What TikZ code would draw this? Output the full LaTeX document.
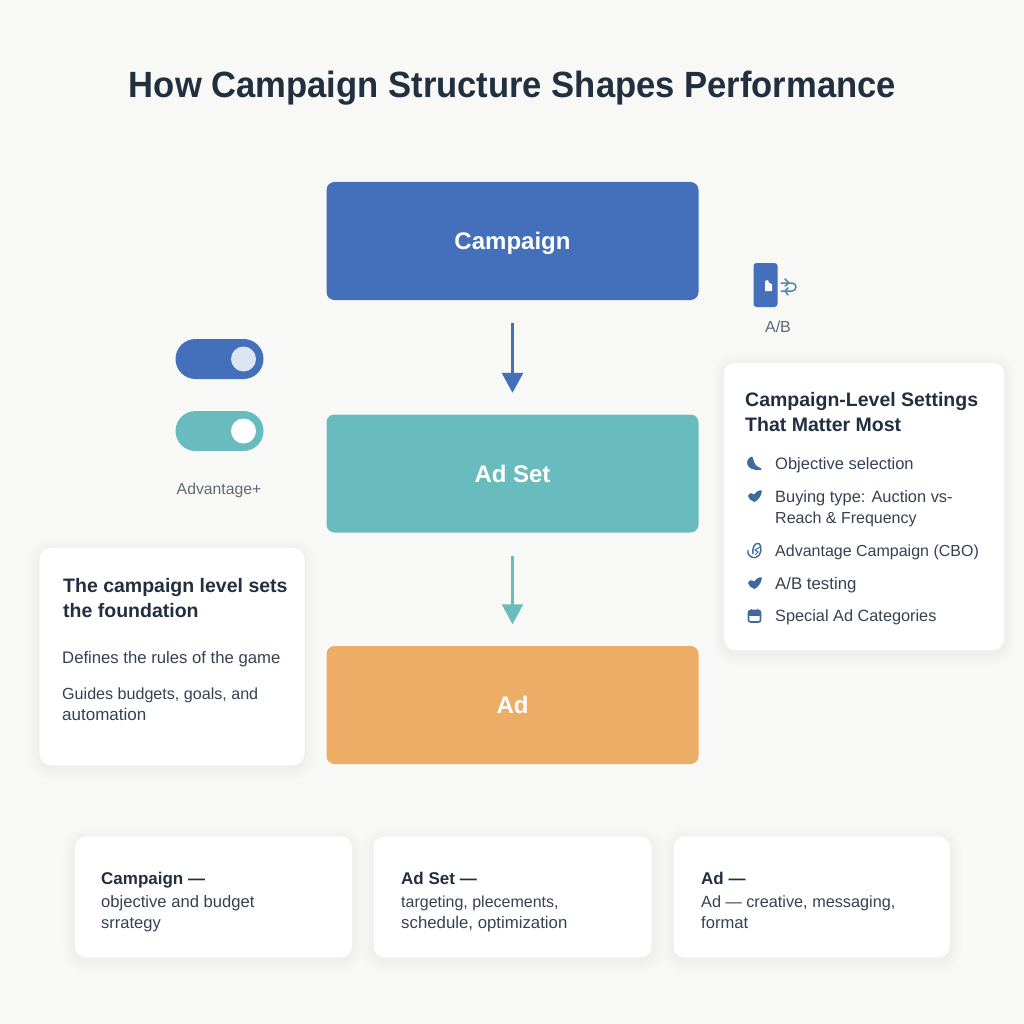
\documentclass[tikz,border=0pt]{standalone}
\usepackage{fontspec}
\setmainfont{Liberation Sans}
\newfontfamily\titlefont[FakeStretch=0.948]{Liberation Sans}
\usetikzlibrary{arrows.meta}
\definecolor{bgc}{HTML}{F8F8F6}
\definecolor{navy}{HTML}{222F3F}
\definecolor{bodyc}{HTML}{354252}
\definecolor{greyc}{HTML}{5F6A76}
\definecolor{bluec}{HTML}{436FBB}
\definecolor{tealc}{HTML}{68BCBE}
\definecolor{orangec}{HTML}{EDAD66}
\definecolor{iconc}{HTML}{3F6A9E}
\tikzset{
  level/.style={rounded corners=8pt,inner sep=0pt,minimum width=372pt,minimum height=118pt,text=white,text height=17pt,text depth=0pt,font=\fontsize{24}{24}\selectfont\bfseries},
  card/.style={fill=white,rounded corners=11pt,inner sep=0pt,draw=none},
  head/.style={anchor=base west,inner sep=0pt,text=navy,font=\fontsize{19.5}{20}\selectfont\bfseries},
  txt/.style={anchor=base west,inner sep=0pt,text=bodyc,font=\fontsize{#1}{16}\selectfont},
  txt/.default=16,
  small/.style={anchor=base west,inner sep=0pt,text=navy,font=\fontsize{17}{17}\selectfont\bfseries},
  flow/.style={line width=3pt,-{Triangle[length=20pt,width=21pt]}},
  icon/.style={fill=iconc,draw=iconc,line width=.8pt,line join=round},
  iconline/.style={draw=iconc,line width=1.4pt,fill=none},
}
% soft shadow plus white card: name, centre x, centre y, width, height
\newcommand{\softcard}[5]{%
  \foreach \i in {1,...,9}{
    \pgfmathsetmacro{\rr}{11+\i*1.4}
    \fill[black,opacity=.0045,rounded corners=\rr pt] ({#2-#4/2-\i*1.4},{#3-#5/2-\i*1.4+3}) rectangle ({#2+#4/2+\i*1.4},{#3+#5/2+\i*1.4+3});
  }
  \node[card,minimum width=#4pt,minimum height=#5pt] (#1) at (#2,#3) {};
}
\newcommand{\checkicon}[2]{%
  \begin{scope}[shift={(#1,#2)}]
  \path[icon] (-6,0) .. controls (-5,-3) and (-2,-3) .. (0,-1) .. controls (2,-4) and (5,-6) .. (7,-5) .. controls (6.5,0) and (3,4) .. (0,5.5) .. controls (-3,4) and (-6,3) .. (-6,0) -- cycle;
  \end{scope}}
\begin{document}
\begin{tikzpicture}[x=1pt,y=-1pt]
\useasboundingbox (0,0) rectangle (1024,1024);
\fill[bgc] (0,0) rectangle (1024,1024);
\node[anchor=base,inner sep=0pt,text=navy,font=\titlefont\fontsize{36.5}{36}\selectfont\bfseries] (title) at (512.5,98) {How Campaign Structure Shapes Performance};

% levels
\node[level,fill=bluec] (campaign) at (512.5,241) {Campaign};
\node[level,fill=tealc] (adset) at (512.5,473.5) {Ad Set};
\node[level,fill=orangec] (ad) at (512.5,705) {Ad};
\draw[flow,draw=bluec,fill=bluec,shorten <=23pt,shorten >=21.5pt] (campaign) -- (adset);
\draw[flow,draw=tealc,fill=tealc,line width=2.4pt,shorten <=23pt,shorten >=21.5pt] (adset) -- (ad);

% toggles
\node[fill=bluec,rounded corners=20pt,minimum width=88pt,minimum height=40pt,inner sep=0pt] (tog1) at (219.5,359) {};
\node[circle,fill=white!82!bluec,minimum size=25pt,inner sep=0pt] (knob1) at (243.5,359) {};
\node[fill=tealc,rounded corners=20pt,minimum width=88pt,minimum height=40pt,inner sep=0pt] (tog2) at (219.5,431) {};
\node[circle,fill=white,minimum size=25pt,inner sep=0pt] (knob2) at (243.5,431) {};
\node[anchor=base,inner sep=0pt,text=greyc,font=\fontsize{15.75}{15}\selectfont] (advlabel) at (219,494) {Advantage+};

% A/B icon
\node[fill=bluec,rounded corners=3pt,minimum width=24pt,minimum height=44pt,inner sep=0pt] (abphone) at (765.5,285) {};
\fill[white] (765,281) -- (768,280) -- (769,283) -- (772,284) -- (772,291) -- (765,291) -- cycle;
\draw[draw=iconc!60!tealc,line width=1.5pt,line cap=round,line join=round] (781,283) -- (792,283) arc (-90:90:4) -- (781,291);
\draw[draw=iconc!60!tealc,line width=1.5pt,line cap=round,line join=round] (785,279) -- (789,283) -- (785,286);
\draw[draw=iconc!60!tealc,line width=1.5pt,line cap=round,line join=round] (788,288) -- (785,291) -- (788,295);
\node[anchor=base,inner sep=0pt,text=greyc,font=\fontsize{16}{16}\selectfont] (ablabel) at (778,332) {A/B};

% right card
\softcard{rcard}{864}{506.5}{280}{287}
\node[head] (rh1) at (745,406) {Campaign-Level Settings};
\node[head] (rh2) at (745,431) {That Matter Most};
\node[txt=16.5] (r1) at (775,469) {Objective selection};
\node[txt=16.4] (r2) at (775,502) {Buying type: Auction vs-};
\node[txt] (r3) at (775,523) {Reach \& Frequency};
\node[txt] (r4) at (775,556) {Advantage Campaign (CBO)};
\node[txt=16.8] (r5) at (775,589) {A/B testing};
\node[txt=16.3] (r6) at (775,621) {Special Ad Categories};
% right card icons
\path[icon] (752,457) .. controls (745,459) and (745,471) .. (761,469.5) .. controls (761,467.5) and (757,468) .. (756,466) .. controls (754,464) and (753,460) .. (752,457) -- cycle;
\checkicon{754.5}{496}
\checkicon{754.5}{583}
\draw[iconline] (748,550) .. controls (747,557) and (753,558) .. (756,557.5) .. controls (762,556) and (762,545) .. (759,543.5) .. controls (755,542.5) and (752,547) .. (753,554);
\draw[iconline,line width=1pt] (760,547) -- (755,550) -- (758,552) -- (755,555);
\draw[iconline,rounded corners=2pt,line width=1.6pt] (748.5,610.5) rectangle (760.5,622);
\fill[iconc] (748,611) rectangle (761,615.5);
\draw[iconc,line width=1.4pt] (751.5,608.5) -- (751.5,611) (757.5,608.5) -- (757.5,611);

% left card
\softcard{lcard}{172}{656.5}{265}{217}
\node[head] (lh1) at (63,592) {The campaign level sets};
\node[head] (lh2) at (63,617) {the foundation};
\node[txt=16.7] (l1) at (62,663) {Defines the rules of the game};
\node[txt=16.1] (l2) at (62,699) {Guides budgets, goals, and};
\node[txt=17] (l3) at (62,720) {automation};

% bottom cards
\softcard{b1}{213.5}{897}{277}{121}
\node[small] (b1h) at (101,884) {Campaign —};
\node[txt=16.6] (b1a) at (101,907) {objective and budget};
\node[txt=16.5] (b1b) at (101,928) {srrategy};
\softcard{b2}{512.5}{897}{278}{121}
\node[small] (b2h) at (401,884) {Ad Set —};
\node[txt] (b2a) at (401,907) {targeting, plecements,};
\node[txt=16.8] (b2b) at (401,928) {schedule, optimization};
\softcard{b3}{811.5}{897}{276}{121}
\node[small] (b3h) at (701,884) {Ad —};
\node[txt=16.25] (b3a) at (701,907) {Ad — creative, messaging,};
\node[txt=16.6] (b3b) at (701,928) {format};
\end{tikzpicture}
\end{document}
